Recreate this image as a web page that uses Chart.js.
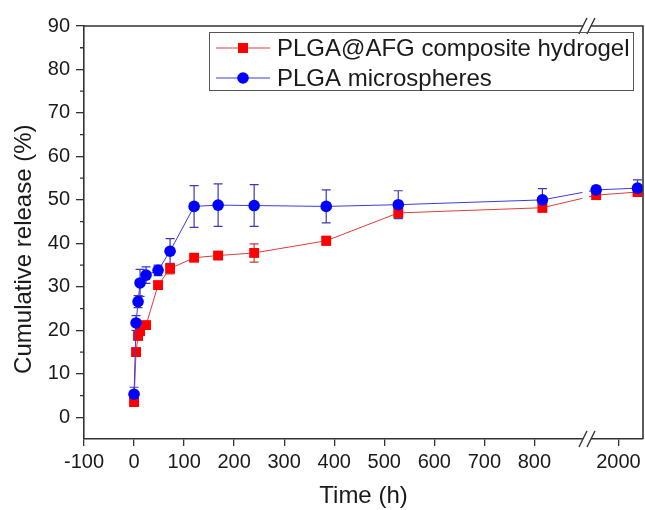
<!DOCTYPE html>
<html><head><meta charset="utf-8">
<script src="https://cdn.jsdelivr.net/npm/chart.js@4.4.1/dist/chart.umd.min.js"></script>
<style>html,body{margin:0;padding:0;background:#fff;}#wrap{width:645px;height:510px;position:relative;}</style>
</head><body><div id="wrap"><canvas id="c" width="645" height="510"></canvas></div>
<script>
// ---- data ----
const timesH = [0, 4, 8, 12, 24, 48, 72, 120, 168, 240, 384, 528, 816, 1728, 2232];
const hydrogelRelease = [3.5, 15.0, 18.7, 19.8, 21.2, 30.4, 34.2, 36.7, 37.2, 37.8, 40.6, 47.0, 48.2, 51.1, 51.8];
const hydrogelError   = [0.8, 0.6, 0.8, 0.8, 0.6, 0.6, 1.2, 0.8, 0.5, 2.1, 1.0, 1.2, 1.0, 1.0, 0.8];
const microRelease    = [5.3, 21.7, 26.6, 30.9, 32.7, 33.8, 38.2, 48.5, 48.8, 48.7, 48.5, 48.9, 50.0, 52.3, 52.7];
const microError      = [1.6, 1.7, 1.4, 3.1, 1.9, 1.2, 2.9, 4.8, 4.9, 4.8, 3.8, 3.2, 2.6, 0.9, 1.9];
const xTickValues = [-100, 0, 100, 200, 300, 400, 500, 600, 700, 800, 2000];
const yTickValues = [0, 10, 20, 30, 40, 50, 60, 70, 80, 90];
const yMinorTicks = [-5, 5, 15, 25, 35, 45, 55, 65, 75, 85];
const seriesNames = ['PLGA@AFG composite hydrogel', 'PLGA microspheres'];
const xTitle = 'Time (h)';
const yTitle = 'Cumulative release (%)';

// broken time axis: linear up to 900 h, compressed segment after the break
function toAxis(t) { return t <= 900 ? t : 968 + (t - 2000) * 0.164; }
const BREAK_POS = 905;

const FONT = '"Liberation Sans", Arial, sans-serif';
const TXT = '#1a1a1a';
const AX = '#333333';

// keep the plot area right edge at 2px from the canvas edge
const fixRight = {
  id: 'fixRight',
  afterLayout(chart) {
    const x = chart.scales.x;
    const target = chart.width - 2;
    chart.chartArea.right = target;
    chart.chartArea.width = target - chart.chartArea.left;
    x.right = target;
    x.width = target - x.left;
    x.configure();
  }
};

const errorBars = {
  id: 'errorBars',
  beforeDatasetsDraw(chart) {
    const {ctx, scales: {x, y}} = chart;
    chart.data.datasets.forEach((ds) => {
      ctx.save();
      ctx.strokeStyle = ds.errorColor;
      ctx.lineWidth = 1.2;
      ds.data.forEach((p, j) => {
        const px = x.getPixelForValue(p.x);
        const top = y.getPixelForValue(p.y + ds.errors[j]);
        const bot = y.getPixelForValue(p.y - ds.errors[j]);
        ctx.beginPath();
        ctx.moveTo(px, top); ctx.lineTo(px, bot);
        ctx.moveTo(px - 4.5, top); ctx.lineTo(px + 4.5, top);
        ctx.moveTo(px - 4.5, bot); ctx.lineTo(px + 4.5, bot);
        ctx.stroke();
      });
      ctx.restore();
    });
  }
};

const frameAndBreak = {
  id: 'frameAndBreak',
  afterDatasetsDraw(chart) {
    const {ctx, chartArea: a, scales: {x}} = chart;
    const bx = x.getPixelForValue(BREAK_POS);
    ctx.save();
    ctx.fillStyle = '#fff';
    ctx.fillRect(bx - 4.5, a.top + 1, 6.5, a.bottom - a.top - 2);
    ctx.restore();
  },
  afterDraw(chart) {
    const {ctx, chartArea: a, scales: {x, y}} = chart;
    ctx.save();
    ctx.strokeStyle = AX;
    ctx.lineWidth = 1.6;
    ctx.beginPath();
    ctx.moveTo(a.left, a.top); ctx.lineTo(a.right, a.top); ctx.lineTo(a.right, a.bottom);
    ctx.stroke();
    // minor y ticks
    ctx.lineWidth = 1.3;
    ctx.beginPath();
    yMinorTicks.forEach(v => {
      const py = y.getPixelForValue(v);
      if (py < a.bottom - 1) { ctx.moveTo(a.left - 4, py); ctx.lineTo(a.left, py); }
    });
    ctx.stroke();
    // axis break marks
    const bx = x.getPixelForValue(BREAK_POS);
    [a.top, a.bottom].forEach(yy => {
      ctx.fillStyle = '#fff';
      ctx.fillRect(bx - 4, yy - 2, 8, 4);
      ctx.strokeStyle = AX;
      ctx.lineWidth = 1.4;
      ctx.beginPath();
      ctx.moveTo(bx - 8, yy + 8); ctx.lineTo(bx, yy - 8);
      ctx.moveTo(bx, yy + 8); ctx.lineTo(bx + 8, yy - 8);
      ctx.stroke();
    });
    ctx.restore();
  }
};

const boxLegend = {
  id: 'boxLegend',
  afterDraw(chart) {
    const {ctx} = chart;
    ctx.save();
    ctx.strokeStyle = '#555';
    ctx.lineWidth = 1;
    ctx.strokeRect(209.5, 32.5, 424, 58);
    const rows = [48, 78];
    chart.data.datasets.forEach((ds, i) => {
      const yy = rows[i];
      ctx.strokeStyle = ds.borderColor;
      ctx.lineWidth = 1;
      ctx.beginPath(); ctx.moveTo(216, yy); ctx.lineTo(270, yy); ctx.stroke();
      ctx.fillStyle = ds.pointBackgroundColor;
      if (ds.pointStyle === 'rect') {
        ctx.fillRect(238, yy - 5, 10, 10);
      } else {
        ctx.beginPath(); ctx.arc(243, yy, 5.8, 0, Math.PI * 2); ctx.fill();
      }
      ctx.fillStyle = TXT;
      ctx.font = '24px ' + FONT;
      ctx.textBaseline = 'middle';
      ctx.textAlign = 'left';
      ctx.fillText(ds.label, 277, yy + 1);
    });
    ctx.restore();
  }
};

const mk = (vals) => timesH.map((t, i) => ({x: toAxis(t), y: vals[i]}));

new Chart(document.getElementById('c'), {
  type: 'line',
  data: {
    datasets: [
      {
        label: seriesNames[0],
        data: mk(hydrogelRelease),
        errors: hydrogelError,
        errorColor: '#c83a3a',
        borderColor: '#e03a3a',
        borderWidth: 1,
        pointStyle: 'rect',
        pointRadius: 7,
        pointBackgroundColor: '#ff0000',
        pointBorderWidth: 0,
        order: 2
      },
      {
        label: seriesNames[1],
        data: mk(microRelease),
        errors: microError,
        errorColor: '#3a3ab8',
        borderColor: '#3a3ae0',
        borderWidth: 1,
        pointStyle: 'circle',
        pointRadius: 5.8,
        pointBackgroundColor: '#0000ff',
        pointBorderWidth: 0,
        order: 1
      }
    ]
  },
  options: {
    responsive: false,
    animation: false,
    layout: {padding: {left: 0, top: 26, right: 2, bottom: 0}},
    plugins: {legend: {display: false}, tooltip: {enabled: false}},
    scales: {
      x: {
        type: 'linear',
        min: -100,
        max: 1017,
        afterBuildTicks: (s) => { s.ticks = xTickValues.map(t => ({value: toAxis(t)})); },
        afterFit: (s) => { s.height = 71; s.paddingRight = 0; s.paddingLeft = 0; },
        ticks: {
          autoSkip: false, maxRotation: 0, padding: 4,
          color: TXT, font: {family: FONT, size: 20},
          callback: (v, i) => String(xTickValues[i])
        },
        grid: {drawOnChartArea: false, drawTicks: true, tickLength: 7, color: AX, lineWidth: 1.3},
        border: {display: true, color: AX, width: 1.6},
        title: {display: true, text: xTitle, color: TXT, font: {family: FONT, size: 24, lineHeight: 1.15}, padding: {top: 0, bottom: 0}}
      },
      y: {
        type: 'linear',
        min: -5,
        max: 90,
        afterBuildTicks: (s) => { s.ticks = yTickValues.map(v => ({value: v})); },
        afterFit: (s) => { s.width = 84; },
        ticks: {padding: 6, color: TXT, font: {family: FONT, size: 20}},
        grid: {drawOnChartArea: false, drawTicks: true, tickLength: 8, color: AX, lineWidth: 1.3},
        border: {display: true, color: AX, width: 1.6},
        title: {display: true, text: yTitle + '     ', color: TXT, font: {family: FONT, size: 24, lineHeight: 1.15}, padding: {top: 11, bottom: 0}}
      }
    }
  },
  plugins: [fixRight, errorBars, frameAndBreak, boxLegend]
});
</script>
</body></html>
